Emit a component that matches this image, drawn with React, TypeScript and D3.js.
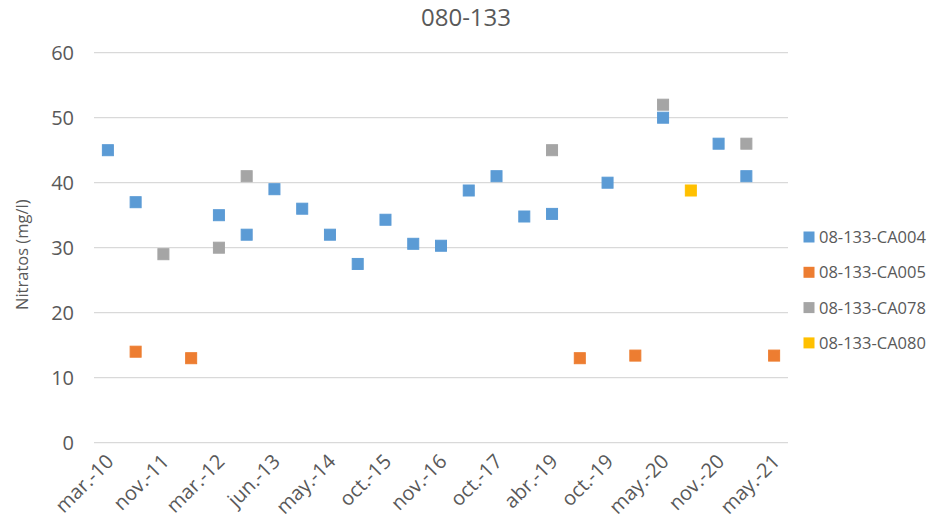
import * as d3 from 'd3';
import React, { useEffect, useRef } from 'react';

const categories = [
  'mar.-10', 'dic.-10', 'nov.-11', 'ene.-12', 'mar.-12', 'oct.-12', 'jun.-13', 'nov.-13',
  'may.-14', 'dic.-14', 'oct.-15', 'may.-16', 'nov.-16', 'may.-17', 'oct.-17', 'may.-18',
  'abr.-19', 'jun.-19', 'oct.-19', 'dic.-19', 'may.-20', 'ago.-20', 'nov.-20', 'feb.-21',
  'may.-21',
];

// only every other category gets a label on the axis
const shownTicks = categories.filter((_, i) => i % 2 === 0);

const ca004 = [
  45, 37, null, null, 35, 32, 39, 36, 32, 27.5, 34.3, 30.6, 30.3, 38.8, 41, 34.8, 35.2,
  null, 40, null, 50, null, 46, 41, null,
];
const ca005 = [
  null, 14, null, 13, null, null, null, null, null, null, null, null, null, null, null,
  null, null, 13, null, 13.4, null, null, null, null, 13.4,
];
const ca078 = [
  null, null, 29, null, 30, 41, null, null, null, null, null, null, null, null, null,
  null, 45, null, null, null, 52, null, null, 46, null,
];
const ca080 = [
  null, null, null, null, null, null, null, null, null, null, null, null, null, null, null,
  null, null, null, null, null, null, 38.8, null, null, null,
];

const seriesNames = ['08-133-CA004', '08-133-CA005', '08-133-CA078', '08-133-CA080'];
const seriesColors = ['#5B9BD5', '#ED7D31', '#A5A5A5', '#FFC000'];
const seriesValues = [ca004, ca005, ca078, ca080];
const yTicks = [0, 10, 20, 30, 40, 50, 60];

const WIDTH = 927;
const HEIGHT = 530;
const FONT = '"Open Sans", "Liberation Sans", sans-serif';
const TEXT = '#595959';

export default function App() {
  const svgRef = useRef<SVGSVGElement>(null);

  useEffect(() => {
    if (!svgRef.current) return;
    const svg = d3.select(svgRef.current);
    svg.selectAll('*').remove();

    const plot = { left: 94, right: 788, top: 52.7, bottom: 442.7 };

    const x = d3.scaleBand<string>()
      .domain(categories)
      .range([plot.left, plot.right])
      .padding(0);
    const y = d3.scaleLinear().domain([0, 60]).range([plot.bottom, plot.top]);
    const cx = (c: string) => (x(c) || 0) + x.bandwidth() / 2;

    // title
    svg.append('text')
      .attr('x', 466)
      .attr('y', 26)
      .attr('text-anchor', 'middle')
      .attr('font-family', FONT)
      .attr('font-size', 24)
      .attr('fill', TEXT)
      .text('080-133');

    // horizontal gridlines
    svg.append('g')
      .selectAll('line')
      .data(yTicks)
      .join('line')
      .attr('x1', plot.left)
      .attr('x2', plot.right)
      .attr('y1', d => y(d))
      .attr('y2', d => y(d))
      .attr('stroke', '#D9D9D9')
      .attr('stroke-width', 1.3);

    // y axis labels
    const yAxis = d3.axisLeft(y).tickValues(yTicks).tickSize(0).tickPadding(20);
    const gy = svg.append('g').attr('transform', `translate(${plot.left},0)`).call(yAxis);
    gy.select('.domain').remove();
    gy.selectAll('text')
      .attr('font-family', FONT)
      .attr('font-size', 20)
      .attr('fill', TEXT);

    // x axis labels, rotated
    const xAxis = d3.axisBottom(x).tickValues(shownTicks).tickSize(0).tickPadding(0);
    const gx = svg.append('g').attr('transform', `translate(0,${plot.bottom})`).call(xAxis);
    gx.select('.domain').remove();
    gx.selectAll('text')
      .attr('font-family', FONT)
      .attr('font-size', 20)
      .attr('fill', TEXT)
      .attr('dy', 0)
      .attr('transform', 'translate(7,20) rotate(-45)')
      .style('text-anchor', 'end');

    // y axis title
    svg.append('text')
      .attr('transform', `translate(28,${(plot.top + plot.bottom) / 2 + 7}) rotate(-90)`)
      .attr('text-anchor', 'middle')
      .attr('font-family', FONT)
      .attr('font-size', 16.5)
      .attr('fill', TEXT)
      .text('Nitratos (mg/l)');

    // markers
    const size = 11;
    seriesValues.forEach((vals, s) => {
      const pts = categories
        .map((c, i) => ({ c, v: vals[i] }))
        .filter(d => d.v !== null) as { c: string; v: number }[];
      svg.append('g')
        .selectAll('rect')
        .data(pts)
        .join('rect')
        .attr('x', d => cx(d.c) - size / 2)
        .attr('y', d => y(d.v) - size / 2)
        .attr('width', size)
        .attr('height', size)
        .attr('fill', seriesColors[s])
        .attr('stroke', seriesColors[s])
        .attr('stroke-width', 1);
    });

    // legend
    const legend = svg.append('g').attr('transform', 'translate(803,237)');
    const items = legend.selectAll('g')
      .data(seriesNames)
      .join('g')
      .attr('transform', (_, i) => `translate(0,${i * 35.3})`);
    items.append('rect')
      .attr('x', 0.5)
      .attr('y', -5.5)
      .attr('width', 11)
      .attr('height', 11)
      .attr('fill', (_, i) => seriesColors[i]);
    items.append('text')
      .attr('x', 16)
      .attr('y', 6)
      .attr('font-family', FONT)
      .attr('font-size', 16.5)
      .attr('fill', TEXT)
      .text(d => d);
  }, []);

  return (
    <svg
      ref={svgRef}
      width={WIDTH}
      height={HEIGHT}
      style={{ position: 'absolute', left: 0, top: 0, background: '#fff' }}
    />
  );
}
